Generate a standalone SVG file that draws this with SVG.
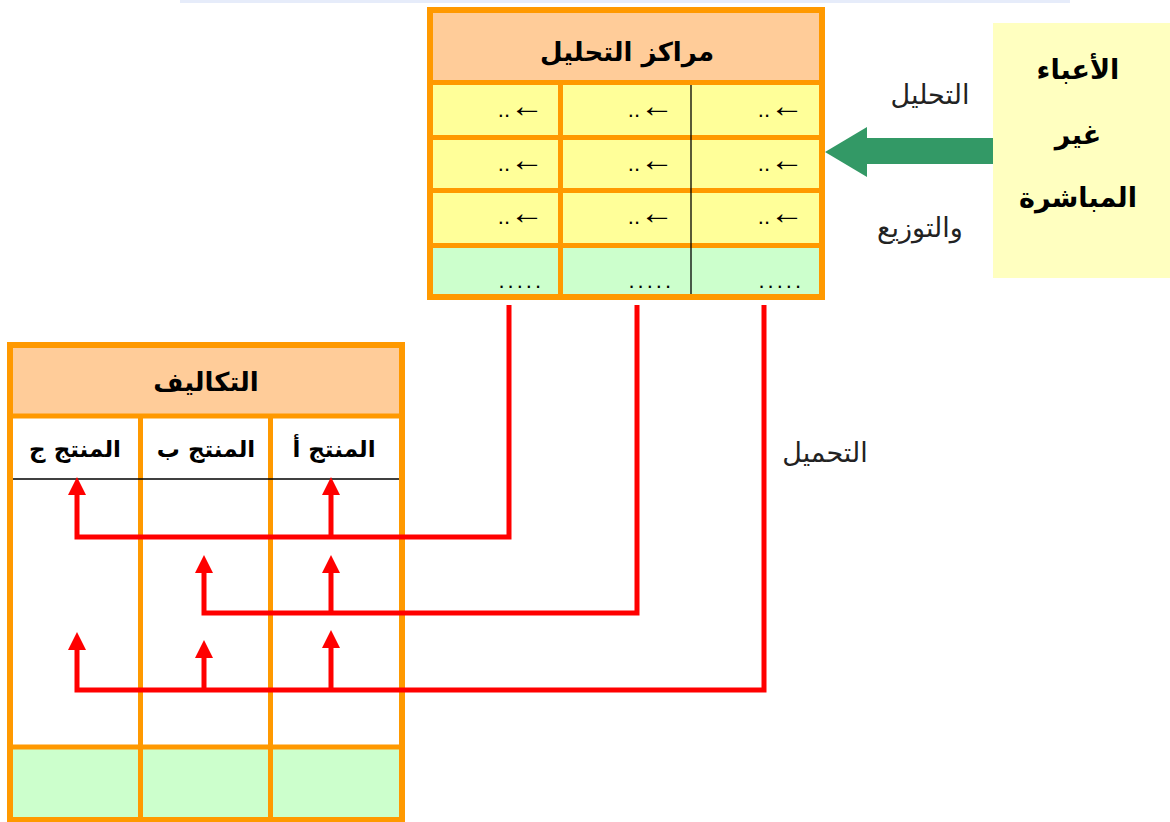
<svg xmlns="http://www.w3.org/2000/svg" width="1170" height="822" viewBox="0 0 1170 822">
<style>
.or{fill:none;stroke:#FF9900;stroke-width:6}
.ol{stroke:#FF9900;stroke-width:5}
.thin{stroke:#000;stroke-width:1.3}
.red{fill:none;stroke:#FF0000;stroke-width:5;stroke-linejoin:miter}
.ar{font-family:"DejaVu Sans","Noto Sans",sans-serif;fill:#000}
.hd{font-size:26px;font-weight:bold;text-anchor:middle}
.bx{font-size:27px;font-weight:bold;text-anchor:middle}
.ph{font-size:23px;font-weight:bold;text-anchor:middle}
.cl{font-family:"Liberation Sans",Arial,sans-serif;font-size:22px;fill:#000;text-anchor:end}
.ah{font-family:"Liberation Sans",Arial,sans-serif;font-size:34px}
.dt{font-family:"Liberation Sans",Arial,sans-serif;font-size:22px;fill:#000;text-anchor:end;letter-spacing:3px}
.lb{font-size:27px;fill:#222;text-anchor:middle}
</style>
<defs>
<marker id="ah" viewBox="0 0 18 18" markerWidth="18" markerHeight="18" refX="0" refY="9" orient="auto" markerUnits="userSpaceOnUse"><path d="M0,0 L18,9 L0,18 z" fill="#FF0000"/></marker>
</defs>
<rect x="180" y="0" width="890" height="3" fill="#E6ECFA"/>

<g id="analysis-centers">
<rect x="430" y="10" width="392" height="72.5" fill="#FFCC99"/>
<rect x="430" y="82.5" width="392" height="163" fill="#FFFF99"/>
<rect x="430" y="245.5" width="392" height="51.5" fill="#CCFFCC"/>
<line class="ol" x1="430" y1="82.5" x2="822" y2="82.5"/>
<line class="ol" x1="430" y1="137.5" x2="822" y2="137.5"/>
<line class="ol" x1="430" y1="190.5" x2="822" y2="190.5"/>
<line class="ol" x1="430" y1="245.5" x2="822" y2="245.5"/>
<line class="ol" x1="560.5" y1="82.5" x2="560.5" y2="297"/>
<line class="thin" x1="691" y1="85" x2="691" y2="295"/>
<rect class="or" x="430" y="10" width="392" height="287"/>
<text class="ar hd" x="627" y="61">مراكز  التحليل</text>
<text class="cl" x="544" y="117">..<tspan class="ah">←</tspan></text>
<text class="cl" x="674" y="117">..<tspan class="ah">←</tspan></text>
<text class="cl" x="804" y="117">..<tspan class="ah">←</tspan></text>
<text class="cl" x="544" y="171">..<tspan class="ah">←</tspan></text>
<text class="cl" x="674" y="171">..<tspan class="ah">←</tspan></text>
<text class="cl" x="804" y="171">..<tspan class="ah">←</tspan></text>
<text class="cl" x="544" y="224">..<tspan class="ah">←</tspan></text>
<text class="cl" x="674" y="224">..<tspan class="ah">←</tspan></text>
<text class="cl" x="804" y="224">..<tspan class="ah">←</tspan></text>
<text class="dt" x="544" y="288">.....</text>
<text class="dt" x="674" y="288">.....</text>
<text class="dt" x="804" y="288">.....</text>
</g>

<g id="indirect-costs">
<rect x="993" y="23" width="177" height="255" fill="#FFFFC0"/>
<text class="ar bx" x="1078" y="79">الأعباء</text>
<text class="ar bx" x="1078" y="144">غير</text>
<text class="ar bx" x="1078" y="207">المباشرة</text>
</g>

<g id="costs">
<rect x="10" y="345" width="392" height="71" fill="#FFCC99"/>
<rect x="10" y="416" width="392" height="331" fill="#FFFFFF"/>
<rect x="10" y="747" width="392" height="73" fill="#CCFFCC"/>
<line class="ol" x1="10" y1="416" x2="402" y2="416"/>
<line class="ol" x1="10" y1="747" x2="402" y2="747"/>
<line class="ol" x1="140.5" y1="416" x2="140.5" y2="820"/>
<line class="ol" x1="270.5" y1="416" x2="270.5" y2="820"/>
<line class="thin" x1="12" y1="479" x2="400" y2="479"/>
<rect class="or" x="10" y="345" width="392" height="475"/>
<text class="ar hd" x="206" y="391">التكاليف</text>
<text class="ar ph" x="334" y="457">المنتج أ</text>
<text class="ar ph" x="206" y="457">المنتج ب</text>
<text class="ar ph" x="75" y="457">المنتج ج</text>
</g>

<g id="connectors">
<polygon points="993,138 867,138 867,127 825,152 867,177 867,164 993,164" fill="#339966"/>
<path class="red" d="M509,305 V537 H77 V495" marker-end="url(#ah)"/>
<path class="red" d="M331,537 V495" marker-end="url(#ah)"/>
<path class="red" d="M637,305 V613 H204 V573" marker-end="url(#ah)"/>
<path class="red" d="M331,613 V573" marker-end="url(#ah)"/>
<path class="red" d="M764,305 V690 H77 V650" marker-end="url(#ah)"/>
<path class="red" d="M204,690 V658" marker-end="url(#ah)"/>
<path class="red" d="M331,690 V648" marker-end="url(#ah)"/>
</g>

<g id="labels">
<text class="ar lb" x="930" y="104">التحليل</text>
<text class="ar lb" x="920" y="237">والتوزيع</text>
<text class="ar lb" x="825" y="462">التحميل</text>
</g>
</svg>
